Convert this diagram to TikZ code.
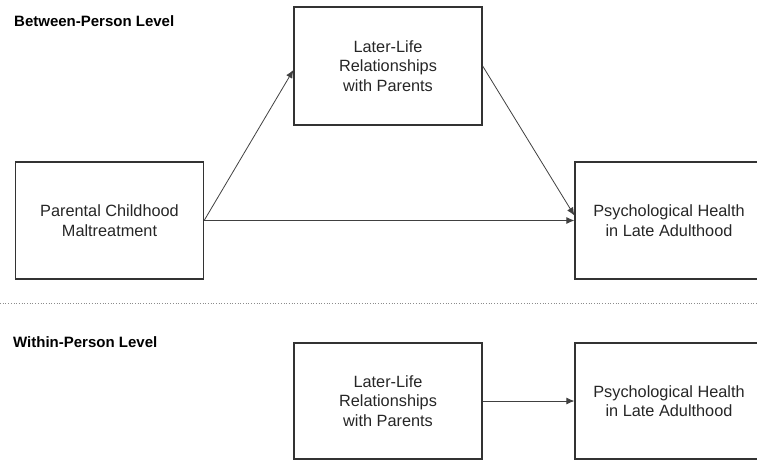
\documentclass[tikz,border=0pt]{standalone}
\usepackage{fontspec}
\setmainfont{Liberation Sans}
\usetikzlibrary{arrows.meta}
\tikzset{
    box/.style={draw=black!80, line width=1.3pt, minimum width=188pt, align=center,
        text=black!85, font=\fontsize{16.3}{19.5}\selectfont},
    lvl/.style={anchor=west, inner sep=0pt, font=\fontsize{15}{18}\selectfont\bfseries},
    path/.style={draw=black!75, line width=0.8pt, -{Latex[length=8pt,width=7pt]}}
}
\begin{document}
\begin{tikzpicture}[x=1pt,y=-1pt]
    \useasboundingbox (0,0) rectangle (757,464);
    \clip (0,0) rectangle (757,464);
    %levels
    \node[lvl] (btw) at (14,21) {Between-Person Level};
    \node[lvl] (wth) at (13,342) {Within-Person Level};
    %between
    \node[box, minimum height=118pt] (rel) at (388,66) {Later-Life\\Relationships\\with Parents};
    \node[box, minimum height=117pt] (mal) at (109.5,220.5) {Parental Childhood\\Maltreatment};
    \node[box, minimum height=117pt] (hea) at (669,220.5) {Psychological Health\\in Late Adulthood};
    \draw[path] (mal.east) -- ([yshift=-4pt]rel.west);
    \draw[path] (rel.east) -- ([yshift=5pt]hea.west);
    \draw[path] (mal.east) -- (hea.west);
    %separator
    \coordinate (sl) at (0,303);
    \coordinate (sr) at (757,303);
    \draw[black!45, line width=0.7pt, dotted] (sl) -- (sr);
    %within
    \node[box, minimum height=116pt] (relw) at (388,401) {Later-Life\\Relationships\\with Parents};
    \node[box, minimum height=116pt] (heaw) at (669,401) {Psychological Health\\in Late Adulthood};
    \draw[path] (relw) -- (heaw);
\end{tikzpicture}
\end{document}
